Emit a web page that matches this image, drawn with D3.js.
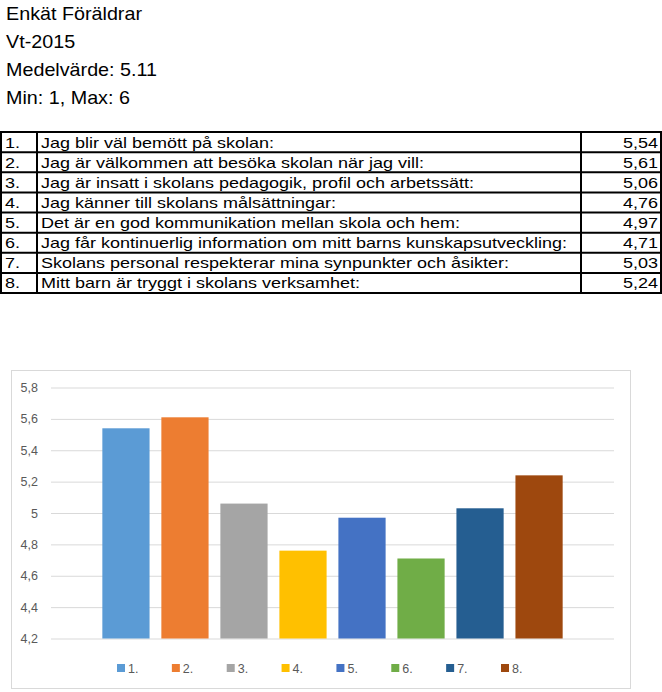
<!DOCTYPE html>
<html>
<head>
<meta charset="utf-8">
<script src="https://cdn.jsdelivr.net/npm/d3@7"></script>
<style>
  body { margin: 0; background: #fff; }
  svg { display: block; font-family: "Liberation Sans", Arial, sans-serif; }
</style>
</head>
<body>
<div id="chart"></div>
<script>
// data
var headerLines = ["Enkät Föräldrar", "Vt-2015", "Medelvärde: 5.11", "Min: 1, Max: 6"];
var itemNumbers = ["1.", "2.", "3.", "4.", "5.", "6.", "7.", "8."];
var questions = [
  "Jag blir väl bemött på skolan:",
  "Jag är välkommen att besöka skolan när jag vill:",
  "Jag är insatt i skolans pedagogik, profil och arbetssätt:",
  "Jag känner till skolans målsättningar:",
  "Det är en god kommunikation mellan skola och hem:",
  "Jag får kontinuerlig information om mitt barns kunskapsutveckling:",
  "Skolans personal respekterar mina synpunkter och åsikter:",
  "Mitt barn är tryggt i skolans verksamhet:"
];
var values = [5.54, 5.61, 5.06, 4.76, 4.97, 4.71, 5.03, 5.24];
var yTicks = [4.2, 4.4, 4.6, 4.8, 5, 5.2, 5.4, 5.6, 5.8];
var colors = ["#5B9BD5", "#ED7D31", "#A5A5A5", "#FFC000", "#4472C4", "#70AD47", "#255E91", "#9E480E"];

var width = 662, height = 692;
var svg = d3.select("#chart").append("svg")
  .attr("width", width)
  .attr("height", height);

var fmt = function(v) { return String(v).replace(".", ","); };
var fmt2 = function(v) { return v.toFixed(2).replace(".", ","); };

// stretch text sideways by k (Calibri is wider than Liberation at the same height)
function stretch(sel, k) {
  sel.each(function() {
    var w = this.getComputedTextLength();
    d3.select(this).attr("textLength", w * k).attr("lengthAdjust", "spacingAndGlyphs");
  });
}

// header
var head = svg.selectAll(".head")
  .data(headerLines)
  .enter().append("text")
  .attr("class", "head")
  .attr("x", 6)
  .attr("y", function(d, i) { return 20 + i * 28; })
  .style("font-size", "18.5px")
  .style("fill", "#000")
  .text(function(d) { return d; });
// "Medelvärde: 5.11" is 151px wide in the reference
var hw = head.nodes()[2].getComputedTextLength();
stretch(head, 151 / hw);

// table
var tTop = 132, tBottom = 293, tLeft = 1, tRight = 661, col1 = 37, col2 = 581;
var rowY = d3.scaleBand().domain(itemNumbers).range([tTop, tBottom]);
var table = svg.append("g");

var rows = table.selectAll(".row")
  .data(itemNumbers)
  .enter().append("g")
  .attr("class", "row");

var numText = rows.append("text")
  .attr("x", 5)
  .attr("y", function(d) { return rowY(d) + rowY.bandwidth() / 2 + 5.5; })
  .style("font-size", "14.5px")
  .text(function(d) { return d; });

var qText = rows.append("text")
  .attr("x", col1 + 4)
  .attr("y", function(d) { return rowY(d) + rowY.bandwidth() / 2 + 5.5; })
  .style("font-size", "14.5px")
  .text(function(d, i) { return questions[i]; });

// fit the longest question to the width it takes in the reference
var longest = d3.max(qText.nodes(), function(n) { return n.getComputedTextLength(); });
var k = 526 / longest;
stretch(qText, k);
stretch(numText, k);

var valText = rows.append("text")
  .attr("x", col2 + 77)
  .attr("y", function(d) { return rowY(d) + rowY.bandwidth() / 2 + 5.5; })
  .attr("text-anchor", "end")
  .style("font-size", "14.5px")
  .text(function(d, i) { return fmt2(values[i]); });
stretch(valText, k);

table.selectAll(".hline")
  .data(itemNumbers.map(function(d) { return rowY(d); }).concat([tBottom]))
  .enter().append("line")
  .attr("x1", tLeft).attr("x2", tRight)
  .attr("y1", function(d) { return d; }).attr("y2", function(d) { return d; })
  .style("stroke", "#000").style("stroke-width", 2);

table.selectAll(".vline")
  .data([tLeft, col1, col2, tRight])
  .enter().append("line")
  .attr("x1", function(d) { return d; }).attr("x2", function(d) { return d; })
  .attr("y1", tTop - 1).attr("y2", tBottom + 1)
  .style("stroke", "#000").style("stroke-width", 2);

// chart frame
svg.append("rect")
  .attr("x", 11.5).attr("y", 370.5)
  .attr("width", 619).attr("height", 318)
  .style("fill", "#fff")
  .style("stroke", "#d9d9d9");

var plotLeft = 51, plotRight = 614;
var y = d3.scaleLinear().domain([4.2, 5.8]).range([638.5, 387.5]);
var x = d3.scaleBand().domain(itemNumbers).range([plotLeft, plotRight])
  .paddingInner(0.2).paddingOuter(0.87);

var yAxis = d3.axisLeft(y)
  .tickValues(yTicks)
  .tickSize(-(plotRight - plotLeft))
  .tickPadding(13)
  .tickFormat(fmt);

var gy = svg.append("g")
  .attr("transform", "translate(" + plotLeft + ",0)")
  .call(yAxis);
gy.select(".domain").remove();
gy.selectAll(".tick line").style("stroke", "#d9d9d9").style("stroke-width", 1);
gy.selectAll(".tick text")
  .style("font-size", "12.5px")
  .style("fill", "#595959")
  .style("font-family", "Liberation Sans, Arial, sans-serif");

svg.selectAll(".bar")
  .data(values)
  .enter().append("rect")
  .attr("class", "bar")
  .attr("x", function(d, i) { return x(itemNumbers[i]); })
  .attr("y", function(d) { return y(d); })
  .attr("width", x.bandwidth())
  .attr("height", function(d) { return y(4.2) - y(d); })
  .style("fill", function(d, i) { return colors[i]; });

// legend
var lx = d3.scalePoint().domain(itemNumbers).range([117, 501]);
var leg = svg.selectAll(".leg")
  .data(itemNumbers)
  .enter().append("g")
  .attr("class", "leg")
  .attr("transform", function(d) { return "translate(" + lx(d) + ",664)"; });
leg.append("rect")
  .attr("width", 8).attr("height", 8)
  .style("fill", function(d, i) { return colors[i]; });
leg.append("text")
  .attr("x", 11).attr("y", 8.5)
  .style("font-size", "12.5px")
  .style("fill", "#595959")
  .text(function(d) { return d; });
</script>
</body>
</html>
